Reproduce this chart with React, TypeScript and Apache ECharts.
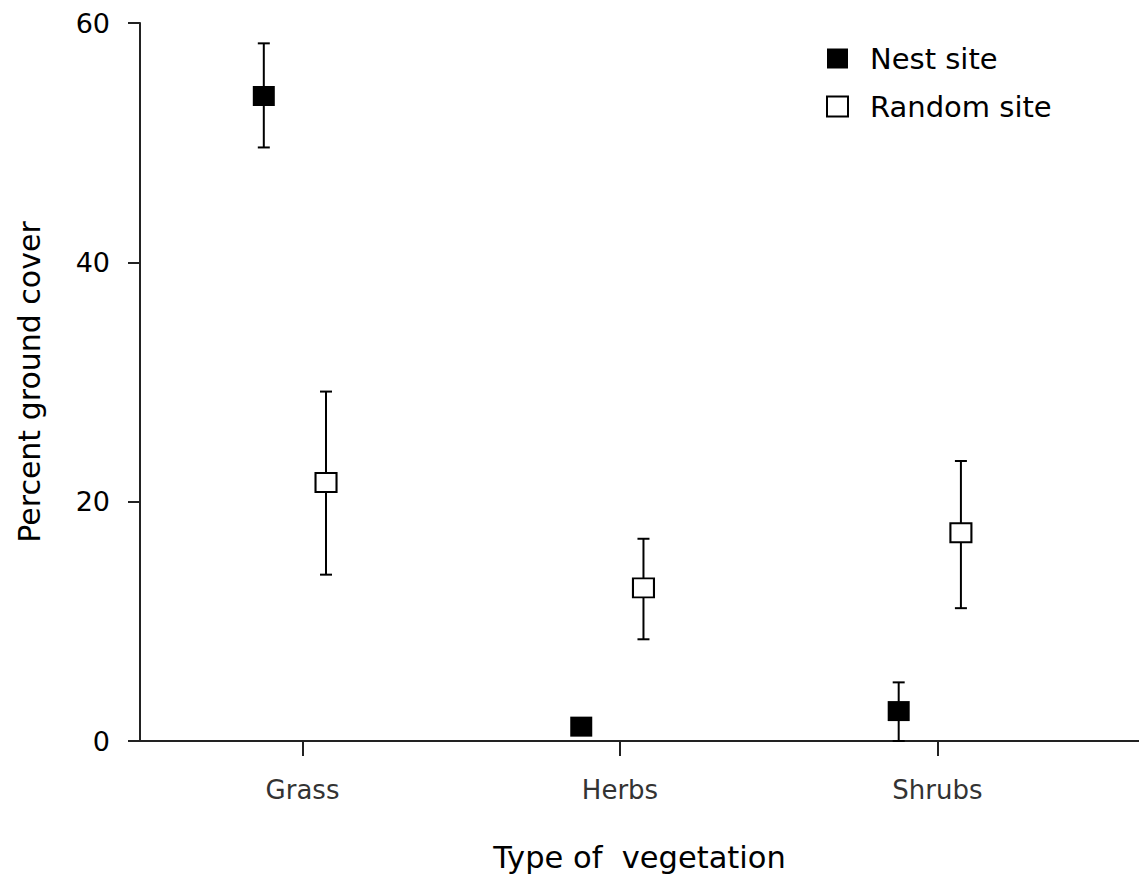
import React, { useEffect, useRef } from "react";
import * as echarts from "echarts";

const categories = ["Grass", "Herbs", "Shrubs"];
const nestMean = [53.9, 1.2, 2.5];
const nestLow = [49.6, 0.7, 0.0];
const nestHigh = [58.3, 1.7, 4.9];
const randomMean = [21.6, 12.8, 17.4];
const randomLow = [13.9, 8.5, 11.1];
const randomHigh = [29.2, 16.9, 23.4];
const yTicks = [0, 20, 40, 60];

const NEST_OFFSET = -0.122;
const RANDOM_OFFSET = 0.074;
const FONT = "DejaVu Sans";

export default function App() {
  const ref = useRef<HTMLDivElement>(null);
  useEffect(() => {
    if (!ref.current) return;
    const chart = echarts.init(ref.current, undefined, { renderer: "svg" });
    const catPos = categories.map((_, i) => i + 1);
    const nestPts = categories.map((_, i) => [catPos[i] + NEST_OFFSET, nestMean[i]]);
    const randPts = categories.map((_, i) => [catPos[i] + RANDOM_OFFSET, randomMean[i]]);
    const errData = [
      ...categories.map((_, i) => [catPos[i] + NEST_OFFSET, nestLow[i], nestHigh[i]]),
      ...categories.map((_, i) => [catPos[i] + RANDOM_OFFSET, randomLow[i], randomHigh[i]]),
    ];
    const renderErr = (params: any, api: any) => {
      const x = api.value(0);
      const lo = api.coord([x, api.value(1)]);
      const hi = api.coord([x, api.value(2)]);
      const half = 6;
      const style = { stroke: "#000", lineWidth: 2 };
      return {
        type: "group",
        children: [
          { type: "line", shape: { x1: lo[0], y1: lo[1], x2: hi[0], y2: hi[1] }, style },
          { type: "line", shape: { x1: hi[0] - half, y1: hi[1], x2: hi[0] + half, y2: hi[1] }, style },
          { type: "line", shape: { x1: lo[0] - half, y1: lo[1], x2: lo[0] + half, y2: lo[1] }, style },
        ],
      };
    };
    chart.setOption({
      animation: false,
      backgroundColor: "#fff",
      grid: { left: 140, right: 0, top: 23, bottom: 137, containLabel: false },
      legend: {
        orient: "vertical",
        left: 821,
        top: 39,
        itemWidth: 21,
        itemHeight: 20,
        itemGap: 19,
        textStyle: { fontFamily: FONT, fontSize: 29, color: "#000", padding: [0, 0, 0, 17] },
        data: [
          { name: "Nest site", icon: "rect", itemStyle: { color: "#000", borderWidth: 0 } },
          { name: "Random site", icon: "rect", itemStyle: { color: "#fff", borderColor: "#000", borderWidth: 2 } },
        ],
      },
      xAxis: {
        type: "value",
        min: 0.488,
        max: 3.635,
        splitLine: { show: false },
        axisLine: { show: true, onZero: false, lineStyle: { color: "#222", width: 2 } },
        axisTick: { show: true, customValues: catPos, length: 15, lineStyle: { color: "#222", width: 2 } },
        axisLabel: {
          customValues: catPos,
          margin: 36,
          fontFamily: FONT,
          fontSize: 26,
          color: "#333",
          formatter: (v: number) => categories[Math.round(v) - 1] ?? "",
        },
        name: "Type of  vegetation",
        nameLocation: "middle",
        nameGap: 101,
        nameTextStyle: { fontFamily: FONT, fontSize: 30.5, color: "#000" },
      },
      yAxis: {
        type: "value",
        min: 0,
        max: 60,
        interval: 20,
        splitLine: { show: false },
        axisLine: { show: true, lineStyle: { color: "#222", width: 2 } },
        axisTick: { show: true, length: 12, lineStyle: { color: "#222", width: 2 } },
        axisLabel: {
          margin: 30,
          fontFamily: FONT,
          fontSize: 27,
          color: "#000",
          formatter: (v: number) => (yTicks.includes(v) ? String(v) : ""),
        },
        name: "Percent ground cover",
        nameLocation: "middle",
        nameGap: 96,
        nameTextStyle: { fontFamily: FONT, fontSize: 30, color: "#000", padding: [0, 0, 0, 0] },
      },
      series: [
        {
          type: "custom",
          name: "err",
          renderItem: renderErr,
          data: errData,
          encode: { x: 0, y: [1, 2] },
          z: 1,
          silent: true,
        },
        {
          type: "scatter",
          name: "Nest site",
          symbol: "rect",
          symbolSize: [22, 20],
          itemStyle: { color: "#000", opacity: 1 },
          data: nestPts,
          z: 3,
        },
        {
          type: "scatter",
          name: "Random site",
          symbol: "rect",
          symbolSize: [21, 19],
          itemStyle: { color: "#fff", borderColor: "#000", borderWidth: 2, opacity: 1 },
          data: randPts,
          z: 3,
        },
      ],
    });
    return () => chart.dispose();
  }, []);
  return (
    <div
      ref={ref}
      style={{ position: "fixed", left: 0, top: 0, width: 1139, height: 878, background: "#fff" }}
    />
  );
}
